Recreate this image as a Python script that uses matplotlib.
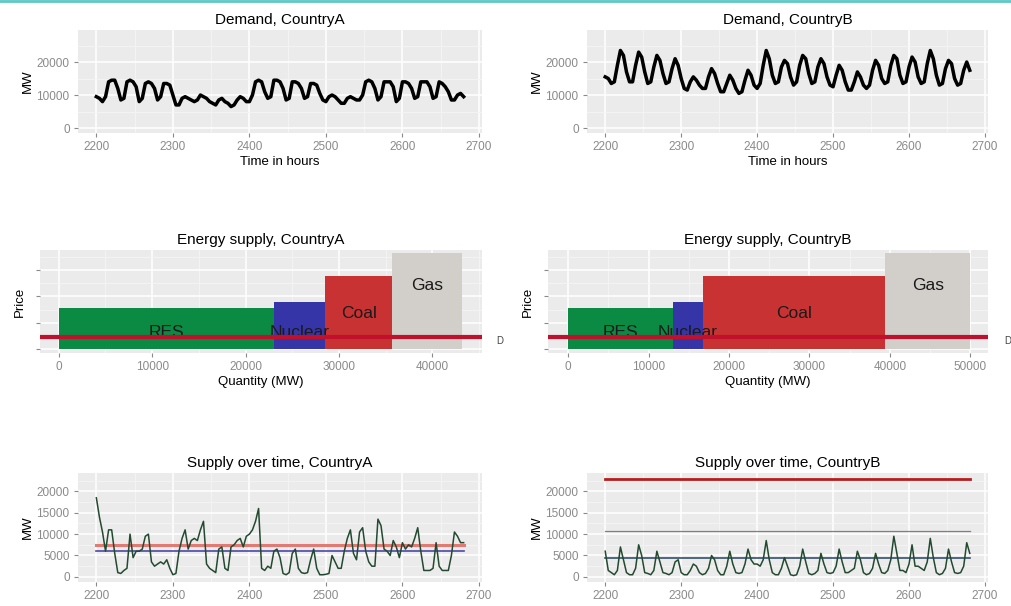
import numpy as np
import matplotlib
matplotlib.use("Agg")
import matplotlib.pyplot as plt
from matplotlib.lines import Line2D
from matplotlib.ticker import MultipleLocator

plt.rcParams['font.family'] = ['Liberation Sans', 'DejaVu Sans']

# hours, every 4 h from 2200 to 2680
hours = list(range(2200, 2681, 4))

# demand in MW, per day: 0h 4h 8h 12h 16h 20h
demand_a = [9500, 9000,
            8000, 9500, 14000, 14500, 14500, 12000,
            8500, 9000, 14000, 14500, 14000, 12500,
            8000, 9000, 13500, 14000, 13500, 12000,
            8500, 9500, 13500, 13500, 13000, 10000,
            7000, 7000, 9000, 9500, 9000, 8500,
            8000, 8500, 10000, 9500, 9000, 8000,
            7500, 7000, 8500, 9000, 8000, 7500,
            6500, 7000, 8500, 9500, 9000, 8000,
            8000, 10000, 14000, 14500, 14000, 11000,
            9000, 9500, 14500, 14500, 14000, 12000,
            8500, 9000, 14000, 14000, 13500, 12000,
            9000, 9500, 13500, 13500, 13000, 10500,
            8500, 8000, 9500, 10000, 9500, 8500,
            7500, 7500, 9000, 9500, 9000, 8500,
            8500, 10000, 14000, 14500, 14000, 12000,
            8500, 9500, 14000, 14000, 14000, 12500,
            8000, 9000, 14000, 14000, 13500, 12000,
            9000, 9500, 14000, 14000, 14000, 12500,
            9000, 9500, 14000, 13500, 12500, 11000,
            8500, 8500, 10000, 10500, 9500]

demand_b = [15500, 15000,
            13500, 14000, 19000, 23500, 22000, 17000,
            14000, 14000, 19000, 23000, 21500, 17000,
            13500, 14000, 18500, 22000, 20500, 16500,
            13500, 14000, 18000, 21000, 19000, 15000,
            12000, 11500, 14000, 15500, 14500, 13000,
            12000, 12000, 15500, 18000, 16500, 13500,
            11000, 11000, 13500, 16000, 14500, 12000,
            10500, 11000, 14500, 17500, 16000, 13000,
            12000, 13500, 19000, 23500, 21000, 16000,
            13500, 14000, 18500, 20500, 19500, 15500,
            13000, 14000, 19000, 22000, 21000, 16500,
            13500, 14000, 18500, 21000, 19500, 15500,
            13000, 12500, 16000, 19000, 17500, 14000,
            11500, 11500, 14000, 17000, 15500, 13000,
            12000, 13000, 17500, 20500, 19000, 15000,
            13500, 14000, 19000, 22000, 21000, 16000,
            13500, 14000, 18500, 21500, 20000, 15500,
            13500, 14000, 19500, 23500, 21000, 16000,
            13000, 13500, 18000, 20500, 19500, 15000,
            13000, 13500, 17500, 20000, 17500]

# supply over time in MW
supply_a = [18500, 14000, 10500, 6000, 11000, 11000, 5500, 1000, 800, 1500,
            2000, 10000, 4500, 6000, 6000, 6500, 9500, 10000, 3500, 2500,
            3000, 3500, 3000, 4000, 2000, 500, 800, 6000, 9000, 11000,
            6500, 8500, 9000, 8500, 11000, 13000, 3000, 2000, 1500, 1000,
            6500, 7000, 2000, 1500, 7000, 7500, 8500, 9000, 7000, 9500,
            10000, 11000, 13000, 16000, 2000, 1500, 2500, 2000, 6000, 6500,
            4500, 800, 500, 1000, 5500, 6500, 2000, 1000, 800, 1000,
            4000, 6500, 2000, 500, 500, 600, 800, 5000, 3500, 2000,
            2000, 6000, 9000, 11000, 5500, 4000, 10500, 11500, 6000, 3500,
            2500, 2500, 13500, 12000, 6500, 6000, 5000, 8500, 7000, 4500,
            8000, 6500, 7500, 7000, 9000, 11500, 6000, 1500, 1500, 1500,
            2000, 8000, 2500, 1500, 1500, 1500, 5000, 10500, 9500, 8000,
            8000]

supply_b = [6000, 1500,
            1000, 500, 1500, 7000, 4000, 1000,
            500, 500, 2000, 7500, 5000, 1000,
            800, 500, 1500, 6000, 3500, 1000,
            800, 500, 1000, 3500, 4000, 1000,
            500, 500, 1500, 3000, 2500, 1000,
            500, 800, 2000, 5000, 4000, 1500,
            500, 500, 2500, 6000, 3000, 1000,
            800, 1000, 3000, 6500, 4000, 3000,
            3000, 2500, 4000, 8500, 4000, 1000,
            500, 500, 2000, 4500, 2500, 500,
            300, 500, 2500, 6500, 3500, 800,
            500, 800, 1500, 5500, 3000, 1000,
            800, 1000, 2500, 6500, 3500, 1000,
            1000, 1500, 2000, 6000, 4000, 1000,
            500, 800, 2000, 5500, 3000, 1000,
            800, 1500, 4000, 9500, 5500, 1500,
            1500, 1000, 3000, 7500, 2500, 2500,
            2000, 1500, 3500, 9000, 4500, 1000,
            500, 800, 2000, 6500, 3500, 1000,
            800, 1000, 2500, 8000, 5500]

# horizontal levels in the supply plots
levels_a = [7500, 6000]
levels_b = [23000, 10700, 4300]

# merit order
techs = ['RES', 'Nuclear', 'Coal', 'Gas']
tech_colors = ['#0b8a43', '#3535a8', '#c83232', '#d2cec9']
cap_a = [23000, 5500, 7200, 7500]
cap_b = [13000, 3800, 22600, 10600]
price = [39, 44.7, 69.4, 91.3]
label_y = [16, 16, 34, 60]
demand_price = 11.4

W, H = 1011, 606
fig = plt.figure(figsize=(W / 100, H / 100), dpi=100)

BG = '#ebebeb'
TICK = '#8a8a8a'


def px_axes(x0, y0, x1, y1):
    return fig.add_axes([x0 / W, 1 - y1 / H, (x1 - x0) / W, (y1 - y0) / H])


def gg(ax):
    ax.set_facecolor(BG)
    for s in ax.spines.values():
        s.set_visible(False)
    ax.grid(which='major', color='white', lw=1.1)
    ax.grid(which='minor', color='#f5f5f5', lw=0.6)
    ax.set_axisbelow(True)
    ax.tick_params(which='major', colors=TICK, length=3, labelsize=8.5, pad=3)
    ax.tick_params(which='minor', length=0)


def time_axis(ax):
    ax.set_xlim(2176, 2704)
    ax.xaxis.set_major_locator(MultipleLocator(100))
    ax.xaxis.set_minor_locator(MultipleLocator(50))


# demand panels
for (x0, x1), data, name in [((78, 482), demand_a, 'CountryA'),
                             ((587, 988), demand_b, 'CountryB')]:
    ax = px_axes(x0, 30, x1, 133)
    gg(ax)
    ax.plot(hours, data, color='black', lw=2.5)
    time_axis(ax)
    ax.set_ylim(-1500, 29700)
    ax.yaxis.set_major_locator(MultipleLocator(10000))
    ax.yaxis.set_minor_locator(MultipleLocator(5000))
    ax.set_title('Demand, ' + name, fontsize=11, pad=4)
    ax.set_xlabel('Time in hours', fontsize=9.5, labelpad=2)
    ax.set_ylabel('MW', fontsize=9.5, labelpad=2)

# merit order panels
for (x0, x1), caps, xlim, name, dx in [((40, 482), cap_a, (-2000, 45300), 'CountryA', 47200),
                                       ((548, 988), cap_b, (-2500, 52200), 'CountryB', 54700)]:
    ax = px_axes(x0, 250, x1, 353)
    gg(ax)
    left = np.concatenate([[0], np.cumsum(caps)[:-1]])
    ax.bar(left, price, width=caps, align='edge', color=tech_colors, zorder=2)
    for lx, w, ly, t in zip(left, caps, label_y, techs):
        ax.text(lx + w / 2, ly, t, ha='center', va='center', fontsize=12.5, color='#1a1a1a', zorder=3)
    ax.axhline(demand_price, color='#c0102c', lw=3, zorder=4)
    ax.text(dx, demand_price - 4, 'D', fontsize=7, color='#444444', ha='center', va='center',
            clip_on=False)
    ax.set_xlim(*xlim)
    ax.set_ylim(-3.8, 94)
    ax.xaxis.set_major_locator(MultipleLocator(10000))
    ax.xaxis.set_minor_locator(MultipleLocator(5000))
    ax.yaxis.set_major_locator(MultipleLocator(25))
    ax.yaxis.set_minor_locator(MultipleLocator(12.5))
    ax.set_yticklabels([])
    ax.set_title('Energy supply, ' + name, fontsize=11, pad=4)
    ax.set_xlabel('Quantity (MW)', fontsize=9.5, labelpad=2)
    ax.set_ylabel('Price', fontsize=9.5, labelpad=4)

# supply over time panels
for (x0, x1), data, levels, lcols, lws, name in [
        ((78, 482), supply_a, levels_a, ['#e07a72', '#4a4aa8'], [2.2, 1.2], 'CountryA'),
        ((587, 988), supply_b, levels_b, ['#b81c1c', '#808080', '#34506e'], [2.0, 0.9, 1.2], 'CountryB')]:
    ax = px_axes(x0, 473, x1, 582)
    gg(ax)
    for lv, c, lw in zip(levels, lcols, lws):
        ax.plot([hours[0], hours[-1]], [lv, lv], color=c, lw=lw, zorder=2)
    ax.plot(hours, data, color='#234a30', lw=1.1, zorder=3)
    time_axis(ax)
    ax.set_ylim(-1200, 24300)
    ax.yaxis.set_major_locator(MultipleLocator(5000))
    ax.yaxis.set_minor_locator(MultipleLocator(2500))
    ax.set_title('Supply over time, ' + name, fontsize=11, pad=4)
    ax.set_ylabel('MW', fontsize=9.5, labelpad=2)

# slide border at the top
fig.add_artist(Line2D([0, 1], [0.998, 0.998], color='#5cc8c8', lw=2))

fig.savefig('out.png', dpi=100, facecolor='white')
